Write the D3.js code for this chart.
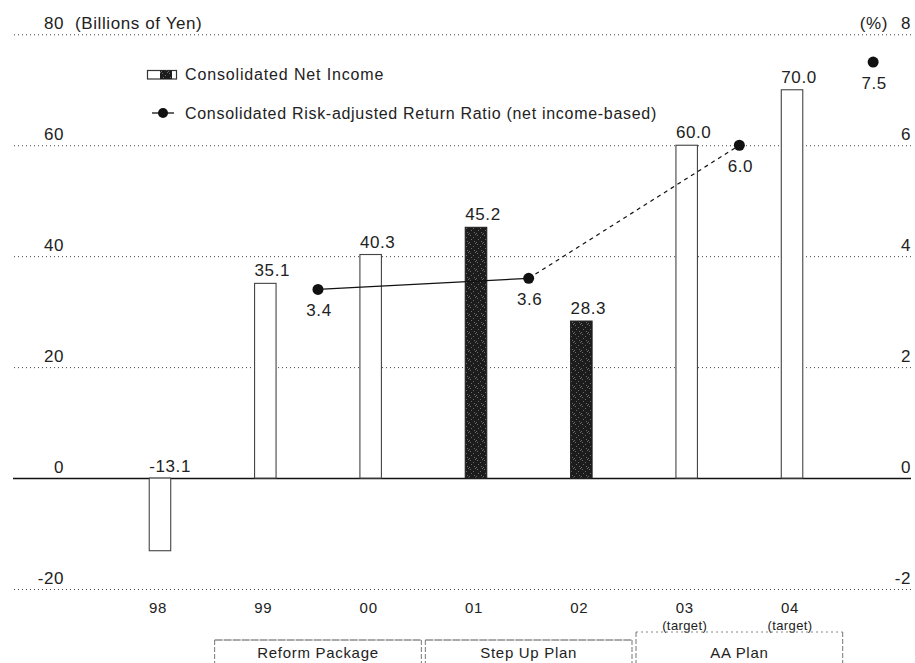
<!DOCTYPE html>
<html>
<head>
<meta charset="utf-8">
<script src="https://cdn.jsdelivr.net/npm/d3@7"></script>
<style>
  html, body { margin: 0; padding: 0; background: #fff; }
  svg text { font-family: "Liberation Sans", Arial, Helvetica, sans-serif; fill: #222; }
</style>
</head>
<body>
<svg id="chart" width="915" height="663"></svg>
<script>
// ---- data ----
const years = ["98", "99", "00", "01", "02", "03", "04"];
const yearNotes = ["", "", "", "", "", "(target)", "(target)"];
const netIncome = [-13.1, 35.1, 40.3, 45.2, 28.3, 60.0, 70.0];
const netIncomeLabels = ["-13.1", "35.1", "40.3", "45.2", "28.3", "60.0", "70.0"];
const stepUpActualYears = ["01", "02"];
const ratioPositions = [1.5, 3.5, 5.5, 6.77];   // position in year-index units
const ratioValues = [3.4, 3.6, 6.0, 7.5];
const ratioLabels = ["3.4", "3.6", "6.0", "7.5"];
const leftTicks = [-20, 0, 20, 40, 60, 80];
const rightTicks = [-2, 0, 2, 4, 6, 8];
const plans = ["Reform Package", "Step Up Plan", "AA Plan"];
const planYears = [["99", "00"], ["01", "02"], ["03", "04"]];
const legendLabels = ["Consolidated Net Income", "Consolidated Risk-adjusted Return Ratio (net income-based)"];

// ---- layout ----
const svg = d3.select("#chart");
const gridLeft = 13, gridRight = 911;
const yTop = 34.3, yBottom = 589;

const x = d3.scaleBand().domain(years).range([107.3, 844.7])
  .paddingInner(0.796).paddingOuter(0.398);
const bw = x.bandwidth();
const xi = d3.scaleLinear().domain([0, years.length - 1])
  .range([x(years[0]) + bw / 2, x(years[years.length - 1]) + bw / 2]);
const y = d3.scaleLinear().domain([-20, 80]).range([yBottom, yTop]);
const y2 = d3.scaleLinear().domain([-2, 8]).range([yBottom, yTop]);
const fmt = d => String(d);

// stipple pattern for dark bars
const defs = svg.append("defs");
const pat = defs.append("pattern").attr("id", "stipple").attr("patternUnits", "userSpaceOnUse")
  .attr("width", 7).attr("height", 9);
pat.append("rect").attr("width", 7).attr("height", 9).attr("fill", "#1c1c1c");
[[1,1],[4,3],[2,5],[5,7],[0,8],[6,0]].forEach(([a,b]) =>
  pat.append("rect").attr("x", a).attr("y", b).attr("width", 1).attr("height", 1).attr("fill", "#6a6a6a"));

// ---- left axis (gridlines + labels) ----
const leftAxis = d3.axisLeft(y).tickValues(leftTicks).tickSize(gridRight - gridLeft)
  .tickPadding(-(64 - gridLeft)).tickFormat(fmt);
const gL = svg.append("g").attr("transform", `translate(${gridRight},0)`).call(leftAxis);
gL.select(".domain").remove();
gL.selectAll(".tick line")
  .attr("stroke", "#444").attr("stroke-width", 1).attr("stroke-dasharray", "1,3");
gL.selectAll(".tick").filter(d => d === 0).select("line")
  .attr("stroke", "#111").attr("stroke-width", 1.6).attr("stroke-dasharray", null);
gL.selectAll(".tick text")
  .attr("dy", "-0.35em").attr("font-size", 17).attr("letter-spacing", 0.6).attr("fill", "#222");
gL.selectAll(".tick").filter(d => d === 80).append("text")
  .attr("x", -(gridRight - 75)).attr("dy", "-0.35em").attr("text-anchor", "start")
  .attr("font-size", 17).attr("letter-spacing", 0.6).attr("fill", "#222")
  .text("(Billions of Yen)");

// ---- right axis labels ----
const rightAxis = d3.axisRight(y2).tickValues(rightTicks).tickSize(0).tickFormat(fmt);
const gR = svg.append("g").attr("transform", `translate(${gridRight},0)`).call(rightAxis);
gR.select(".domain").remove();
gR.selectAll(".tick text")
  .attr("x", 0).attr("text-anchor", "end").attr("dy", "-0.35em")
  .attr("font-size", 17).attr("letter-spacing", 0.6).attr("fill", "#222");
gR.selectAll(".tick").filter(d => d === 8).append("text")
  .attr("x", -23).attr("dy", "-0.35em").attr("text-anchor", "end")
  .attr("font-size", 17).attr("letter-spacing", 0.6).attr("fill", "#222").text("(%)");

// ---- bars ----
const bars = years.map((yr, i) => ({ yr, v: netIncome[i], lab: netIncomeLabels[i] }));
svg.append("g").selectAll("rect").data(bars).join("rect")
  .attr("x", d => x(d.yr))
  .attr("y", d => y(Math.max(0, d.v)))
  .attr("width", bw)
  .attr("height", d => Math.abs(y(d.v) - y(0)))
  .attr("fill", d => stepUpActualYears.includes(d.yr) ? "url(#stipple)" : "#fff")
  .attr("stroke", d => stepUpActualYears.includes(d.yr) ? "#222" : "#444")
  .attr("stroke-width", 1.1);

svg.append("g").selectAll("text").data(bars).join("text")
  .attr("x", d => x(d.yr))
  .attr("y", d => d.v >= 0 ? y(d.v) - 7 : y(0) - 6)
  .attr("font-size", 17).attr("letter-spacing", 0.6)
  .text(d => d.lab);

// ---- ratio line ----
const pts = ratioValues.map((v, i) => ({ x: xi(ratioPositions[i]), y: y2(v), lab: ratioLabels[i] }));
const line = d3.line().x(d => d.x).y(d => d.y);
svg.append("path").attr("d", line(pts.slice(0, 2)))
  .attr("fill", "none").attr("stroke", "#111").attr("stroke-width", 1.3);
svg.append("path").attr("d", line(pts.slice(1, 3)))
  .attr("fill", "none").attr("stroke", "#111").attr("stroke-width", 1.2).attr("stroke-dasharray", "4,4");
svg.append("g").selectAll("circle").data(pts).join("circle")
  .attr("cx", d => d.x).attr("cy", d => d.y).attr("r", 5.5).attr("fill", "#111");
svg.append("g").selectAll("text").data(pts).join("text")
  .attr("x", d => d.x + 1).attr("y", d => d.y + 27)
  .attr("text-anchor", "middle").attr("font-size", 17).attr("letter-spacing", 0.6)
  .text(d => d.lab);

// ---- legend ----
const lg = svg.append("g");
lg.append("rect").attr("x", 147.5).attr("y", 70.5).attr("width", 29).attr("height", 8.5)
  .attr("fill", "#fff").attr("stroke", "#333").attr("stroke-width", 1.2);
lg.append("rect").attr("x", 160).attr("y", 70.5).attr("width", 12).attr("height", 8.5)
  .attr("fill", "url(#stipple)");
lg.append("text").attr("x", 185).attr("y", 79.5).attr("font-size", 16).attr("letter-spacing", 0.85)
  .text(legendLabels[0]);
lg.append("line").attr("x1", 152).attr("x2", 174).attr("y1", 113).attr("y2", 113)
  .attr("stroke", "#111").attr("stroke-width", 1.3);
lg.append("circle").attr("cx", 163).attr("cy", 113).attr("r", 5).attr("fill", "#111");
lg.append("text").attr("x", 185).attr("y", 118.5).attr("font-size", 16).attr("letter-spacing", 0.7)
  .text(legendLabels[1]);

// ---- category labels ----
const cat = svg.append("g").selectAll("g").data(years).join("g")
  .attr("transform", d => `translate(${x(d) + bw / 2 - 2},0)`);
cat.append("text").attr("y", 613).attr("text-anchor", "middle")
  .attr("font-size", 15).attr("letter-spacing", 0.7).text(d => d);
cat.append("text").attr("y", 629.5).attr("text-anchor", "middle")
  .attr("font-size", 13).attr("letter-spacing", 0.4).text((d, i) => yearNotes[i]);

// ---- plan boxes ----
const step = x.step();
const planBoxes = plans.map((p, i) => ({
  name: p,
  x0: x(planYears[i][0]) + bw / 2 - step / 2,
  x1: x(planYears[i][planYears[i].length - 1]) + bw / 2 + step / 2,
  top: i === 2 ? 632 : 640
}));
const pb = svg.append("g").selectAll("g").data(planBoxes).join("g");
pb.append("line").attr("x1", d => d.x0 + 2).attr("x2", d => d.x1 - 2)
  .attr("y1", d => d.top).attr("y2", d => d.top)
  .attr("stroke", (d, i) => i === 2 ? "#888" : "#555").attr("stroke-width", 1)
  .attr("stroke-dasharray", (d, i) => i === 2 ? "2,3" : "8,1");
pb.append("line").attr("x1", d => d.x0 + 2).attr("x2", d => d.x0 + 2)
  .attr("y1", d => d.top).attr("y2", 663)
  .attr("stroke", "#777").attr("stroke-width", 1).attr("stroke-dasharray", "5,2");
pb.append("line").attr("x1", d => d.x1 - 2).attr("x2", d => d.x1 - 2)
  .attr("y1", d => d.top).attr("y2", 663)
  .attr("stroke", "#777").attr("stroke-width", 1).attr("stroke-dasharray", "5,2");
pb.append("text").attr("x", d => (d.x0 + d.x1) / 2).attr("y", 658)
  .attr("text-anchor", "middle").attr("font-size", 15).attr("letter-spacing", 0.7)
  .text(d => d.name);
</script>
</body>
</html>
